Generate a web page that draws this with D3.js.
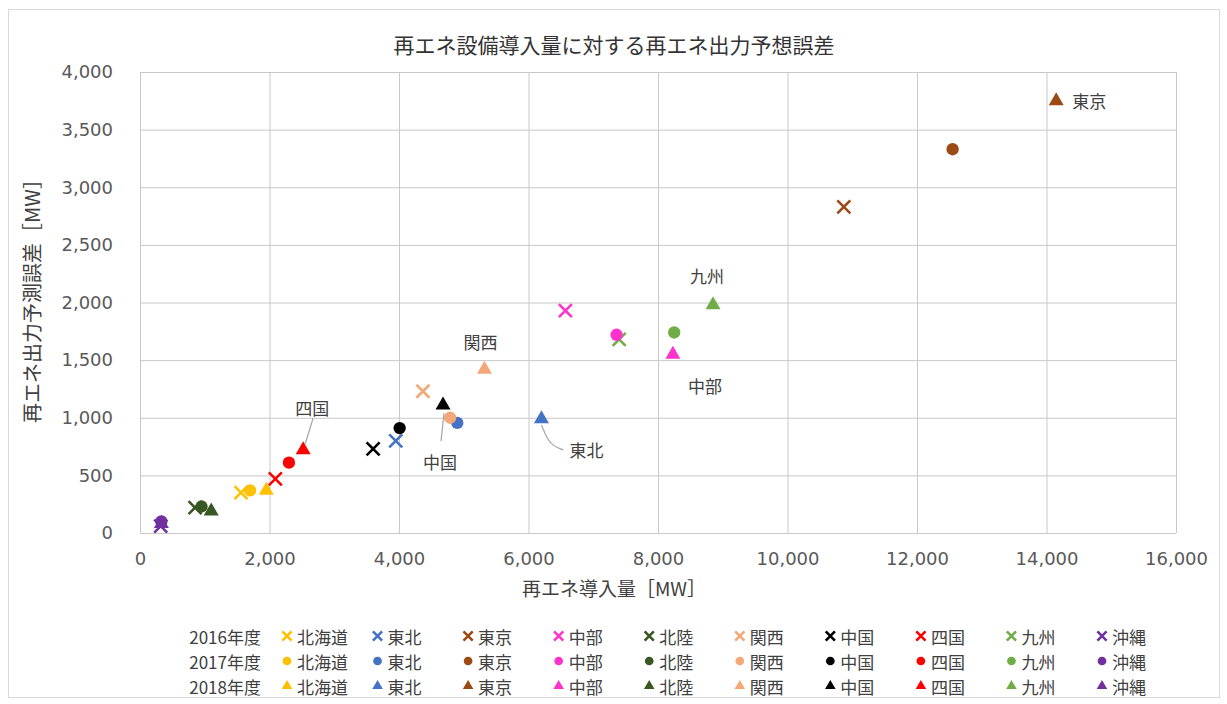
<!DOCTYPE html>
<html>
<head>
<meta charset="utf-8">
<script src="https://cdn.jsdelivr.net/npm/d3@7"></script>
<style>
  body { margin: 0; background: #fff; }
  text { font-family: "Noto Sans CJK JP", "DejaVu Sans", sans-serif; }
</style>
</head>
<body>
<div id="chart"></div>
<script>
// --- data ---
var regions = ["北海道", "東北", "東京", "中部", "北陸", "関西", "中国", "四国", "九州", "沖縄"];
var years = ["2016年度", "2017年度", "2018年度"];

// 再エネ導入量 [MW]
var install2016 = [1560, 3950, 10870, 6570, 850, 4370, 3600, 2090, 7400, 320];
var install2017 = [1700, 4900, 12550, 7360, 950, 4790, 4010, 2300, 8250, 330];
var install2018 = [1950, 6200, 14150, 8230, 1100, 5320, 4680, 2520, 8850, 330];

// 再エネ出力予測誤差 [MW]
var error2016 = [350, 800, 2830, 1930, 220, 1230, 730, 470, 1680, 60];
var error2017 = [370, 955, 3330, 1720, 230, 1000, 910, 610, 1740, 100];
var error2018 = [370, 990, 3750, 1550, 190, 1420, 1110, 720, 1980, 80];

var xTicks = [0, 2000, 4000, 6000, 8000, 10000, 12000, 14000, 16000];
var yTicks = [0, 500, 1000, 1500, 2000, 2500, 3000, 3500, 4000];

var colors = ["#FFC000", "#4472C4", "#9C4A14", "#FF33CC", "#385723",
              "#F4A878", "#000000", "#FF0000", "#70AD47", "#7030A0"];

var W = 1227, H = 704;
var svg = d3.select("#chart").append("svg")
    .attr("width", W)
    .attr("height", H);

// outer chart frame
svg.append("rect")
    .attr("x", 8.5).attr("y", 9.5)
    .attr("width", 1211).attr("height", 688)
    .attr("fill", "#fff")
    .attr("stroke", "#d9d9d9");

var x = d3.scaleLinear().domain([0, 16000]).range([140, 1176]);
var y = d3.scaleLinear().domain([0, 4000]).range([533, 72]);

// grid
svg.append("g")
    .attr("transform", "translate(0,533)")
    .call(d3.axisBottom(x).tickValues(xTicks).tickSize(-461).tickFormat(""))
    .call(function(g){ g.select(".domain").remove(); })
    .selectAll("line").attr("stroke", "#c8c8c8");

svg.append("g")
    .attr("transform", "translate(140,0)")
    .call(d3.axisLeft(y).tickValues(yTicks).tickSize(-1036).tickFormat(""))
    .call(function(g){ g.select(".domain").remove(); })
    .selectAll("line").attr("stroke", "#c8c8c8");

// tick labels
var xAxis = svg.append("g")
    .attr("transform", "translate(0,533)")
    .call(d3.axisBottom(x).tickValues(xTicks).tickSize(0).tickPadding(19).tickFormat(d3.format(",")));
xAxis.select(".domain").remove();
xAxis.selectAll("text")
    .style("font-family", "DejaVu Sans")
    .style("font-size", "18px")
    .attr("fill", "#595959");

var yAxis = svg.append("g")
    .attr("transform", "translate(140,0)")
    .call(d3.axisLeft(y).tickValues(yTicks).tickSize(0).tickPadding(27).tickFormat(d3.format(",")));
yAxis.select(".domain").remove();
yAxis.selectAll("text")
    .style("font-family", "DejaVu Sans")
    .style("font-size", "18px")
    .attr("fill", "#595959");

// titles
svg.append("text")
    .attr("x", 614).attr("y", 53)
    .attr("text-anchor", "middle")
    .style("font-size", "21px")
    .attr("fill", "#333")
    .text("再エネ設備導入量に対する再エネ出力予想誤差");

svg.append("text")
    .attr("x", 614).attr("y", 596)
    .attr("text-anchor", "middle")
    .style("font-size", "19px")
    .attr("fill", "#404040")
    .text("再エネ導入量［MW］");

svg.append("text")
    .attr("transform", "translate(40,296) rotate(-90)")
    .attr("text-anchor", "middle")
    .style("font-size", "20px")
    .attr("fill", "#404040")
    .text("再エネ出力予測誤差［MW］");

// markers
function drawMark(g, type, color, s) {
    if (type === 0) {
        g.append("path")
            .attr("d", "M" + (-s) + "," + (-s) + "L" + s + "," + s + "M" + (-s) + "," + s + "L" + s + "," + (-s))
            .attr("stroke", color)
            .attr("stroke-width", 2.6)
            .attr("fill", "none");
    } else if (type === 1) {
        g.append("circle").attr("r", s * 0.95).attr("fill", color);
    } else {
        g.append("path")
            .attr("d", d3.symbol().type(d3.symbolTriangle).size(s * s * 2.3)())
            .attr("fill", color);
    }
}

var series = [
    { xs: install2016, ys: error2016 },
    { xs: install2017, ys: error2017 },
    { xs: install2018, ys: error2018 }
];

series.forEach(function(s, t) {
    var pts = svg.append("g").selectAll("g")
        .data(regions)
        .enter().append("g")
        .attr("transform", function(d, i){
            return "translate(" + x(s.xs[i]) + "," + y(s.ys[i]) + ")";
        });
    pts.each(function(d, i){
        drawMark(d3.select(this), t, colors[i], 6.5);
    });
});

// data labels on the 2018 points (label offset from point, leader line)
var notes = [
    { region: "東京", dx: 33, dy: 0, line: null },
    { region: "九州", dx: -6, dy: -29, line: null },
    { region: "中部", dx: 32, dy: 31, line: null },
    { region: "関西", dx: -4, dy: -28, line: null },
    { region: "四国", dx: 9, dy: -43, line: [[2, -6], [10, -32]] },
    { region: "中国", dx: -3, dy: 56, line: [[1, 8], [-2, 36]] },
    { region: "東北", dx: 45, dy: 31, line: [[0, 6], [8, 26], [22, 31]] }
];

notes.forEach(function(n) {
    var i = regions.indexOf(n.region);
    var px = x(install2018[i]), py = y(error2018[i]);
    if (n.line) {
        svg.append("path")
            .attr("d", d3.line().curve(d3.curveBasis)(n.line.map(function(p){ return [px + p[0], py + p[1]]; })))
            .attr("fill", "none")
            .attr("stroke", "#a6a6a6")
            .attr("stroke-width", 1.2);
    }
    svg.append("text")
        .attr("x", px + n.dx).attr("y", py + n.dy)
        .attr("text-anchor", "middle")
        .attr("dominant-baseline", "central")
        .style("font-size", "17px")
        .attr("fill", "#404040")
        .text(n.region);
});

// legend
var legendRows = [636, 661, 686];
var legendCols = d3.scaleLinear().domain([0, 9]).range([287, 1102]);

years.forEach(function(yr, t) {
    svg.append("text")
        .attr("x", 261).attr("y", legendRows[t])
        .attr("text-anchor", "end")
        .attr("dominant-baseline", "central")
        .style("font-size", "17px")
        .attr("fill", "#404040")
        .text(yr);
    regions.forEach(function(r, i) {
        var g = svg.append("g")
            .attr("transform", "translate(" + legendCols(i) + "," + legendRows[t] + ")");
        drawMark(g, t, colors[i], 4.6);
        g.append("text")
            .attr("x", 10).attr("y", 0)
            .attr("dominant-baseline", "central")
            .style("font-size", "17px")
            .attr("fill", "#404040")
            .text(r);
    });
});
</script>
</body>
</html>
